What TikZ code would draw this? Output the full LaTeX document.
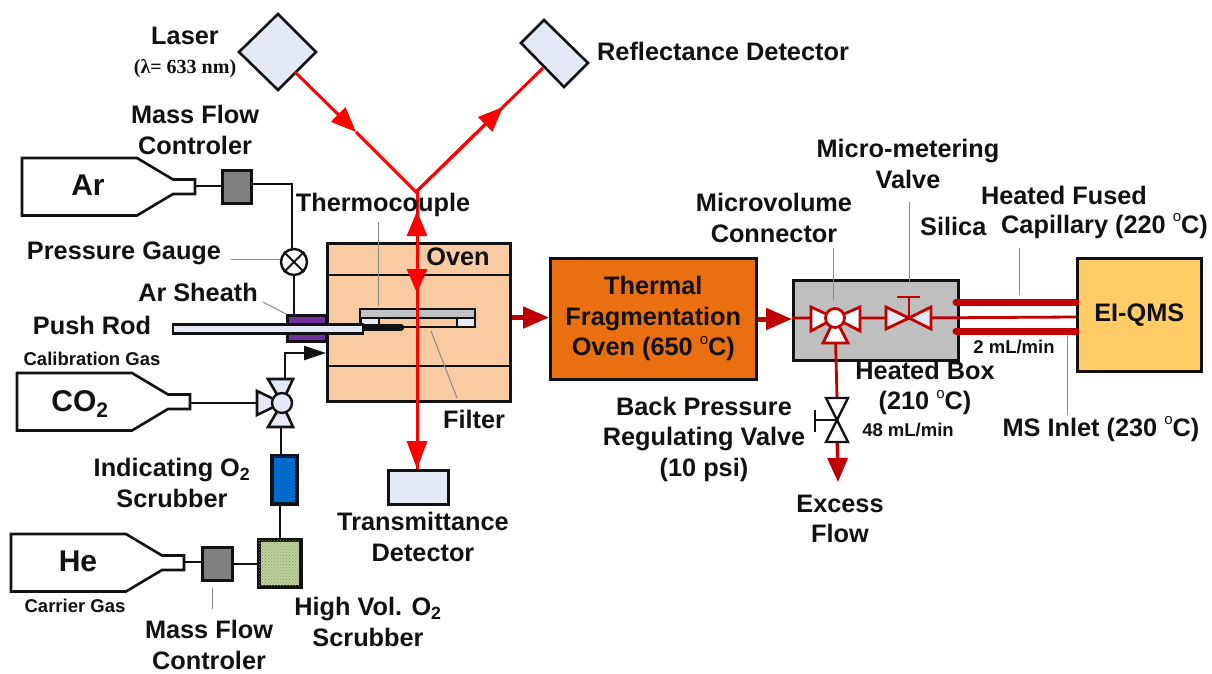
\documentclass[tikz,border=0pt]{standalone}
\usepackage{fontspec}
\setmainfont{Liberation Sans}
\newfontfamily\serifb{Liberation Serif}
\usetikzlibrary{arrows.meta,patterns,calc}
\newcommand\degs{\raisebox{.46em}{\fontsize{15}{15}\selectfont\mdseries o}}
\definecolor{pale}{HTML}{E4EAF5}
\definecolor{ovenfill}{HTML}{F9CBA2}
\definecolor{darkred}{HTML}{C00000}
\definecolor{beamred}{HTML}{FF0000}
\definecolor{fragfill}{HTML}{E96F10}
\definecolor{qmsfill}{HTML}{FFCC66}
\definecolor{boxgray}{HTML}{BFBFBF}
\definecolor{mfcgray}{HTML}{808080}
\definecolor{pointer}{HTML}{8C8C8C}
\definecolor{sheath}{HTML}{7030A0}
\definecolor{ink}{HTML}{111111}
\definecolor{indblue}{HTML}{0070C0}
\definecolor{hvsgreen}{HTML}{BED09B}
\definecolor{stripgray}{HTML}{C8C8C8}
\tikzset{
  x=1pt,y=-1pt,
  lbl/.style={font=\bfseries\fontsize{25.3}{30.5}\selectfont,align=center,inner sep=0pt,text=ink},
  biglbl/.style={font=\bfseries\fontsize{30}{32}\selectfont,inner sep=0pt,text=ink},
  small/.style={font=\bfseries\fontsize{18.5}{20}\selectfont,inner sep=0pt,text=ink},
  outline/.style={draw=ink,line width=2.6pt,line join=miter},
  pipe/.style={draw=ink,line width=2.4pt},
  lead/.style={draw=pointer,line width=1pt},
  beam/.style={draw=beamred,line width=3pt},
  beamtip/.style={-{Triangle[length=#1,width=20pt]}},
  flow/.style={draw=darkred,line width=2.8pt},
  fat/.style={draw=darkred,line width=7pt,line cap=round},
  flowtip/.style={draw=darkred,line width=5pt,-{Triangle[length=26pt,width=21pt]}},
  valveR/.style={draw=darkred,line width=2.8pt,fill=white,line join=miter},
  valveB/.style={draw=ink,line width=2.6pt,fill=pale,line join=miter},
  valveW/.style={draw=ink,line width=2.4pt,fill=white,line join=miter},
  boxn/.style={outline,inner sep=0pt,anchor=north west},
  bottle/.pic={\draw[outline,fill=white] (0,0) -- (115,0) -- (151,21.5) -- (173,21.5) -- (173,36) -- (151,36) -- (115,57.5) -- (0,57.5) -- cycle;},
}
\begin{document}
\begin{tikzpicture}
\useasboundingbox[fill=white] (0,0) rectangle (1212,674);

% ---------- main boxes
\node[boxn,fill=ovenfill,minimum width=183pt,minimum height=158pt] (oven) at (326,242) {};
\node[boxn,fill=fragfill,minimum width=206pt,minimum height=121pt,align=center,font=\bfseries\fontsize{25.3}{30.5}\selectfont,text=ink] (frag) at (549,257) {Thermal\\Fragmentation\\Oven (650 \degs C)};
\node[boxn,fill=boxgray,minimum width=165pt,minimum height=80pt] (hbox) at (792,279) {};
\node[boxn,fill=qmsfill,minimum width=124pt,minimum height=113pt,font=\bfseries\fontsize{25.3}{30}\selectfont,text=ink] (qms) at (1076,257) {EI-QMS};
\node[boxn,fill=pale,minimum width=60pt,minimum height=34pt] (tdet) at (387,469) {};

% oven dividers
\draw[draw=ink,line width=2.4pt] (oven.west |- 0,275) -- (oven.east |- 0,275);
\draw[draw=ink,line width=2.4pt] (oven.west |- 0,366) -- (oven.east |- 0,366);

% ---------- sources
\path (22,158) pic {bottle};
\path (17,373) pic {bottle};
\path (11,534) pic {bottle};
\node[biglbl] (ar) at (88,185) {Ar};
\node[biglbl] (co2) at (80,404) {CO\textsubscript{2}};
\node[biglbl] (he) at (78,561) {He};
\coordinate (arout) at (195,186);
\coordinate (co2out) at (190,403);
\coordinate (heout) at (184,562);

\node[boxn,fill=mfcgray,minimum width=29pt,minimum height=33pt] (mfcar) at (221,169) {};
\node[boxn,fill=mfcgray,minimum width=30pt,minimum height=33pt] (mfche) at (201,546) {};
\node[boxn,fill=indblue,minimum width=24pt,minimum height=47pt] (ind) at (271,455) {};
\fill[pattern=crosshatch dots,pattern color=blue!70!cyan] (ind.north west) rectangle (ind.south east);
\draw[outline] (ind.north west) rectangle (ind.south east);
\node[boxn,fill=hvsgreen,minimum width=41pt,minimum height=46pt] (hvs) at (258,539) {};
\fill[pattern=crosshatch dots,pattern color=hvsgreen!75!black] (hvs.north west) rectangle (hvs.south east);
\draw[outline] (hvs.north west) rectangle (hvs.south east);

% gas lines
\coordinate (gauge) at (294,262);
\coordinate (v4) at (282,403);
\coordinate (armid) at (292,184);
\coordinate (sheathtop) at (294,314);
\coordinate (valveup) at (285,353);
\draw[pipe] (arout) -- (mfcar.west |- arout);
\draw[pipe] (mfcar.east |- armid) -- (armid) -- (292,249);
\draw[pipe] (gauge) -- (sheathtop);
\draw[pipe] (co2out) -- (v4);
\draw[pipe] (heout) -- (mfche.west |- heout);
\draw[pipe] (mfche.east |- 0,564) -- (hvs.west |- 0,564);
\draw[pipe] (ind.south -| 280,0) -- (hvs.north -| 280,0);
\draw[pipe] (281,427) -- (ind.north -| 281,0);
\draw[pipe,-{Triangle[length=22pt,width=14pt]}] (285,380) -- (valveup) -- (oven.west |- valveup);

% gauge
\node[circle,draw=ink,line width=2.4pt,fill=white,minimum size=26pt,inner sep=0pt] (g) at (gauge) {};
\draw[draw=ink,line width=2pt] (g.north west) -- (g.south east) (g.north east) -- (g.south west);

% 4-way valve
\draw[valveB] (257,391) -- (257,415) -- (v4) -- cycle;
\draw[valveB] (268,379) -- (293,379) -- (v4) -- cycle;
\draw[valveB] (268,427) -- (293,427) -- (v4) -- cycle;
\node[circle,draw=ink,line width=2.4pt,fill=pale,minimum size=20pt,inner sep=0pt] (v4c) at (v4) {};

% sheath & push rod
\node[boxn,fill=sheath,minimum width=39pt,minimum height=26pt] (arsh) at (286,314) {};

% filter holder
\fill[fill=ovenfill] (360,309) rectangle (475,327);
\fill[fill=stripgray] (360,309) rectangle (475,318);
\fill[pattern=crosshatch dots,pattern color=gray!70] (360,309) rectangle (475,318);
\draw[draw=ink,line width=2.2pt] (360,318) -- (475,318);
\draw[draw=ink,line width=2.2pt,fill=pale] (361,318) rectangle (379,325);
\draw[draw=ink,line width=2.2pt,fill=pale] (457,318) rectangle (475,327);
\draw[draw=ink,line width=2pt] (361,327) -- (457,327);
\draw[draw=ink,line width=2.6pt] (360,327) -- (360,309) -- (475,309) -- (475,327);
\draw[draw=ink,line width=6.5pt,line cap=round] (362,327.5) -- (401,327.5);
\node[boxn,fill=pale,minimum width=190pt,minimum height=9pt] (rod) at (171.5,323) {};

% ---------- optical path
\draw[outline,fill=pale] (278,14) -- (316,52) -- (278,90) -- (239,52) -- cycle;
\draw[outline,fill=pale] (544,20) -- (588,63) -- (564,87) -- (521,43) -- cycle;
\coordinate (laserout) at (295,72);
\coordinate (refin) at (543,68);
\coordinate (sample) at (416,192);
\coordinate (a1) at (356,132);
\coordinate (a2) at (503,107);
\coordinate (a3) at (417,211);
\coordinate (a3b) at (417,293);
\coordinate (a4) at (417,469);
\draw[beam] (a1) -- (sample) -- (a2);
\draw[beam] (a2) -- (refin);
\draw[beam] (417,192) -- (a4);
\draw[beam,beamtip=25pt] (laserout) -- (a1);
\draw[beam,beamtip=25pt] (sample -| a3) ++(0,48) -- (a3);
\draw[beam,beamtip=24pt] (417,265) -- (a3b);
\draw[beam,beamtip=28pt] (417,435) -- (a4);
\draw[beam,beamtip=25pt] (sample) -- (a2);

% ---------- analysis train
\coordinate (tv) at (835,318);
\coordinate (nv) at (909,318);
\coordinate (bv) at (837,420);
\draw[flowtip] (oven.east |- 0,317.5) -- (frag.west |- 0,317.5);
\draw[flowtip] (frag.east |- 0,319) -- (hbox.west |- 0,319);
\draw[flow] (hbox.west |- tv) -- (tv) -- (nv) -- (qms.west |- 0,317);
\draw[flow] (tv) -- (837,398);
\draw[flow,-{Triangle[length=24pt,width=20pt]},line width=3.5pt] (bv) -- (838,482);
\draw[fat] (956,302) -- (1076,302);
\draw[fat] (956,331) -- (1076,331);

% three-way valve
\draw[valveR] (811,307) -- (811,331) -- (tv) -- cycle;
\draw[valveR] (860,307) -- (860,331) -- (tv) -- cycle;
\draw[valveR] (823,343) -- (848,343) -- (tv) -- cycle;
\node[circle,draw=darkred,line width=2.8pt,fill=white,minimum size=19pt,inner sep=0pt] (tvc) at (tv) {};

% needle valve
\draw[valveR,fill=pale] (886,307) -- (886,329) -- (nv) -- cycle;
\draw[valveR,fill=pale] (931,307) -- (931,329) -- (nv) -- cycle;
\draw[flow] (nv) -- (909,297);
\draw[flow] (897,297) -- (920,297);

% back-pressure valve
\draw[valveW] (826,398) -- (848,398) -- (bv) -- cycle;
\draw[valveW] (826,442) -- (848,442) -- (bv) -- cycle;
\draw[draw=ink,line width=2.2pt] (bv) -- (815,420);
\draw[draw=ink,line width=2.2pt] (815,410) -- (815,432);

% ---------- leaders
\draw[lead] (231,259) -- (g.west |- 0,259);
\draw[lead] (263,302) -- (arsh.north west);
\draw[lead] (378,222) -- (378,306);
\draw[lead] (431,331) -- (457,398);
\draw[lead] (833,248) -- (833,300);
\draw[lead] (909,202) -- (909,283);
\draw[lead] (1019,248) -- (1019,295);
\draw[lead] (1067,335) -- (1067,415);
\draw[lead] (212,588) -- (212,609);

% ---------- labels
\node[lbl] (tlaser) at (185,36) {Laser};
\node[inner sep=0pt,text=ink,font=\serifb\bfseries\fontsize{20}{22}\selectfont] (tlambda) at (185,69) {(λ= 633 nm)};
\node[lbl] (tmfc) at (195,130) {Mass Flow\\Controler};
\node[lbl] (ttc) at (383,205) {Thermocouple};
\node[lbl] (tpg) at (124,253) {Pressure Gauge};
\node[lbl] (tas) at (198,292) {Ar Sheath};
\node[lbl] (tpr) at (92,325) {Push Rod};
\node[small] (tcal) at (92,359) {Calibration Gas};
\node[lbl] (tov) at (458,257) {Oven};
\node[lbl] (tfi) at (474,419) {Filter};
\node[lbl] (ttd) at (423,537) {Transmittance\\Detector};
\node[lbl,anchor=west] (trd) at (597,51) {Reflectance Detector};
\node[lbl] (tmc) at (774,218) {Microvolume\\Connector};
\node[lbl] (tmm) at (908,164) {Micro-metering\\Valve};
\node[lbl] (thf) at (1064,195) {Heated Fused};
\node[lbl,anchor=west] (tsi) at (920,226) {Silica};
\node[lbl,anchor=east] (tcp) at (1208,226) {Capillary (220 \degs C)};
\node[lbl] (thb) at (925,388) {Heated Box\\(210 \degs C)};
\node[lbl] (tbp) at (704,439) {Back Pressure\hspace{12pt}\\Regulating Valve\\(10 psi)};
\node[small] (t48) at (908,430) {48 mL/min};
\node[small] (t2) at (1014,347) {2 mL/min};
\node[lbl] (tms) at (1101,429) {MS Inlet (230 \degs C)};
\node[lbl] (tef) at (840,519) {Excess\\Flow};
\node[lbl] (tio) at (172,483) {Indicating O\textsubscript{2}\\Scrubber};
\node[small] (tcg) at (75,606) {Carrier Gas};
\node[lbl] (thv) at (368,622) {High Vol. O\textsubscript{2}\\Scrubber};
\node[lbl] (tmh) at (209,645) {Mass Flow\\Controler};
\end{tikzpicture}
\end{document}
